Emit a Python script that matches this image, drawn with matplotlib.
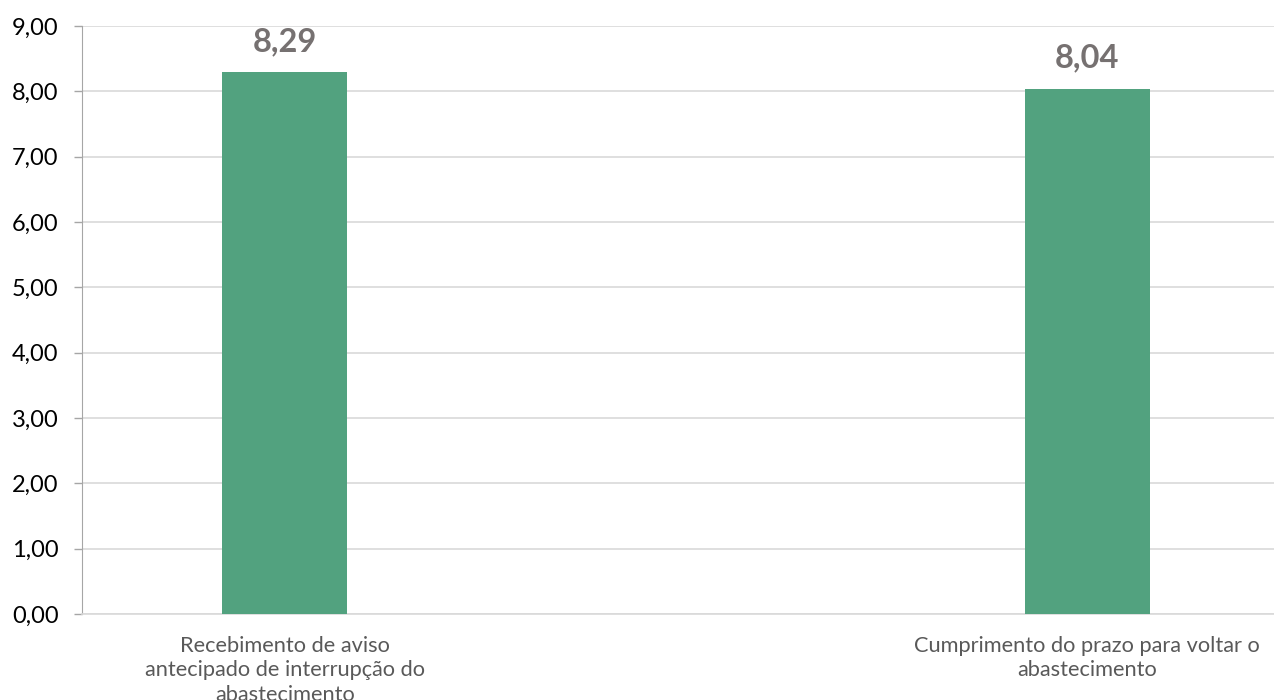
import matplotlib.pyplot as plt

categorias = ['Recebimento de aviso\nantecipado de interrupção do\nabastecimento',
              'Cumprimento do prazo para voltar o\nabastecimento']
notas = [8.29, 8.04]
yticks = [0, 1, 2, 3, 4, 5, 6, 7, 8, 9]

plt.rcParams['font.family'] = ['Lato', 'DejaVu Sans']

fig = plt.figure(figsize=(12.74, 7.0), dpi=100)
ax = fig.add_axes([82 / 1274, 86 / 700, 1 - 82 / 1274, 588 / 700])

x = list(range(len(notas)))
bars = ax.bar(x, notas, width=0.155, color='#52a27f', zorder=3)

for xi, v in zip(x, notas):
    ax.annotate(('%.2f' % v).replace('.', ','), (xi, v), xytext=(0, 11.5),
                textcoords='offset points', ha='center', va='bottom',
                fontsize=23.5, fontweight='bold', color='#767171')

ax.set_xlim(-0.2525, 1.2326)
ax.set_ylim(0, 9)
ax.set_yticks(yticks)
ax.set_yticklabels([('%.2f' % t).replace('.', ',') for t in yticks],
                   fontsize=17, color='#000000')
ax.set_xticks(x)
ax.set_xticklabels(categorias, fontsize=15.7, color='#595959', linespacing=1.3)
ax.tick_params(axis='x', length=0, pad=15.5)
ax.tick_params(axis='y', length=6, width=1, color='#a6a6a6', pad=11)

ax.grid(axis='y', color='#d9d9d9', linewidth=1.2, zorder=0)
for s in ['top', 'right']:
    ax.spines[s].set_visible(False)
ax.spines['left'].set_color('#a6a6a6')
ax.spines['bottom'].set_color('#d9d9d9')
ax.spines['bottom'].set_linewidth(1.2)

fig.savefig('out.png', dpi=100)
